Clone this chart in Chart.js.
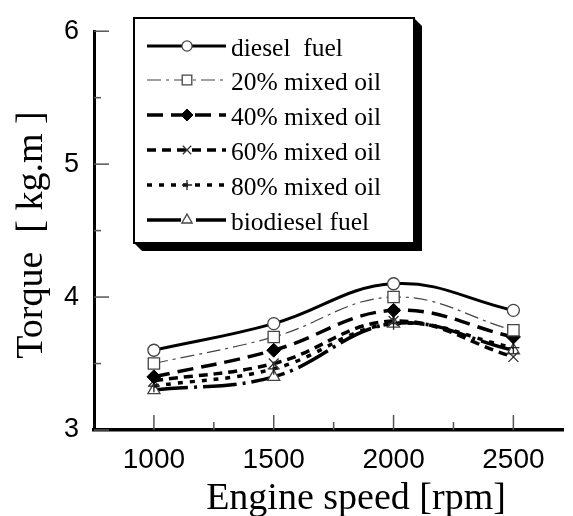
<!DOCTYPE html>
<html><head><meta charset="utf-8">
<script src="https://cdn.jsdelivr.net/npm/chart.js@4/dist/chart.umd.min.js"></script>
<style>html,body{margin:0;padding:0;background:#fff;overflow:hidden}canvas{display:block}</style>
</head><body>
<canvas id="c" width="573" height="516"></canvas>
<script>
// ---- data ----
const speeds = [1000, 1500, 2000, 2500];
const seriesLabels = ['diesel  fuel', '20% mixed oil', '40% mixed oil', '60% mixed oil', '80% mixed oil', 'biodiesel fuel'];
const dieselFuel = [3.6, 3.8, 4.1, 3.9];
const mixed20 = [3.5, 3.7, 4.0, 3.75];
const mixed40 = [3.4, 3.6, 3.9, 3.7];
const mixed60 = [3.37, 3.5, 3.82, 3.55];
const mixed80 = [3.33, 3.46, 3.8, 3.62];
const biodieselFuel = [3.3, 3.4, 3.8, 3.6];
const xTickLabels = [1000, 1500, 2000, 2500];
const xMinorTicks = [1250, 1750, 2250];
const yTickLabels = [3, 4, 5, 6];
const yMinorTicks = [3.5, 4.5, 5.5];
const xTitle = 'Engine speed [rpm]';
const yTitle = 'Torque  [ kg.m ]';

// ---- styles ----
const styles = [
  {borderColor:'#000', borderWidth:3, borderDash:[], pointStyle:'circle', pointRadius:6, pointBorderColor:'#444', pointBackgroundColor:'#fff', pointBorderWidth:1.3},
  {borderColor:'#444', borderWidth:1.2, borderDash:[14,5,3,5], pointStyle:'rect', pointRadius:8, pointBorderColor:'#444', pointBackgroundColor:'#fff', pointBorderWidth:1.3},
  {borderColor:'#000', borderWidth:3.5, borderDash:[16,8], pointStyle:'rectRot', pointRadius:7, pointBorderColor:'#000', pointBackgroundColor:'#000', pointBorderWidth:1},
  {borderColor:'#000', borderWidth:3.5, borderDash:[9,6], pointStyle:'crossRot', pointRadius:7, pointBorderColor:'#333', pointBackgroundColor:'#333', pointBorderWidth:1.3},
  {borderColor:'#000', borderWidth:3.5, borderDash:[5,7], pointStyle:'cross', pointRadius:6, pointBorderColor:'#222', pointBackgroundColor:'#222', pointBorderWidth:1.3},
  {borderColor:'#000', borderWidth:3.5, borderDash:[34,6,3,6], pointStyle:'triangle', pointRadius:7, pointBorderColor:'#444', pointBackgroundColor:'#fff', pointBorderWidth:1.3}
];
const seriesValues = [dieselFuel, mixed20, mixed40, mixed60, mixed80, biodieselFuel];

const datasets = seriesValues.map((vals, i) => Object.assign({
  label: seriesLabels[i],
  data: speeds.map((s, j) => ({x: s, y: vals[j]})),
  tension: 0.4,
  fill: false,
  clip: false
}, styles[i]));

const overlay = {
  id: 'overlay',
  beforeDatasetsDraw(chart) {
    const ctx = chart.ctx, xs = chart.scales.x, ys = chart.scales.y, ca = chart.chartArea;
    ctx.save();
    ctx.strokeStyle = '#555';
    ctx.lineWidth = 1.5;
    const line = (x1, y1, x2, y2) => { ctx.beginPath(); ctx.moveTo(x1, y1); ctx.lineTo(x2, y2); ctx.stroke(); };
    xTickLabels.forEach(v => { const p = xs.getPixelForValue(v); line(p, ca.bottom, p, ca.bottom - 15); });
    xMinorTicks.forEach(v => { const p = xs.getPixelForValue(v); line(p, ca.bottom, p, ca.bottom - 8); });
    yTickLabels.forEach(v => { const p = ys.getPixelForValue(v); line(ca.left, p, ca.left + 15, p); });
    yMinorTicks.forEach(v => { const p = ys.getPixelForValue(v); line(ca.left, p, ca.left + 7, p); });
    ctx.restore();
  },
  afterDraw(chart) {
    const ctx = chart.ctx;
    ctx.save();
    // axis titles
    ctx.fillStyle = '#000';
    ctx.font = '38px "Liberation Serif"';
    ctx.textAlign = 'center';
    ctx.textBaseline = 'alphabetic';
    ctx.fillText(xTitle, 356, 509);
    ctx.save();
    ctx.translate(42, 235);
    ctx.rotate(-Math.PI / 2);
    ctx.fillText(yTitle, 0, 0);
    ctx.restore();

    // legend box with shadow
    const L = 134, T = 18, R = 414, B = 243, S = 8;
    ctx.fillStyle = '#000';
    ctx.beginPath();
    ctx.moveTo(R, T); ctx.lineTo(R + S, T + S); ctx.lineTo(R + S, B + S);
    ctx.lineTo(L + S, B + S); ctx.lineTo(L, B); ctx.lineTo(R, B); ctx.closePath();
    ctx.fill();
    ctx.fillStyle = '#fff';
    ctx.fillRect(L, T, R - L, B - T);
    ctx.strokeStyle = '#000';
    ctx.lineWidth = 2;
    ctx.strokeRect(L, T, R - L, B - T);

    const baselines = [56, 90, 125, 160, 195, 230];
    chart.data.datasets.forEach((ds, i) => {
      const by = baselines[i];
      const ly = by - 10;
      ctx.save();
      ctx.strokeStyle = ds.borderColor;
      ctx.lineWidth = ds.borderWidth;
      ctx.setLineDash(ds.borderDash);
      ctx.beginPath(); ctx.moveTo(147, ly); ctx.lineTo(226, ly); ctx.stroke();
      ctx.setLineDash([]);
      ctx.strokeStyle = ds.pointBorderColor;
      ctx.fillStyle = ds.pointBackgroundColor;
      ctx.lineWidth = ds.pointBorderWidth;
      Chart.helpers.drawPoint(ctx, {pointStyle: ds.pointStyle, radius: ds.pointRadius * 0.85, borderWidth: ds.pointBorderWidth, rotation: 0}, 187, ly);
      ctx.restore();
      ctx.fillStyle = '#000';
      ctx.font = '25.5px "Liberation Serif"';
      ctx.textAlign = 'left';
      ctx.textBaseline = 'alphabetic';
      ctx.fillText(ds.label, 231, by);
    });
    ctx.restore();
  }
};

new Chart(document.getElementById('c'), {
  type: 'line',
  data: {datasets},
  options: {
    responsive: false,
    animation: false,
    devicePixelRatio: 1,
    layout: {padding: {top: 25, right: 0, left: 0, bottom: 0}},
    plugins: {legend: {display: false}, tooltip: {enabled: false}},
    scales: {
      x: {
        type: 'linear', min: 750, max: 2710,
        afterBuildTicks: s => { s.ticks = xTickLabels.map(v => ({value: v})); },
        afterFit: s => { s.height = 86; },
        grid: {display: false, drawTicks: false},
        border: {display: true, color: '#000', width: 3.5},
        ticks: {color: '#000', font: {family: '"Liberation Sans"', size: 28}, padding: 13, maxRotation: 0, autoSkip: false, callback: v => String(v)}
      },
      y: {
        type: 'linear', min: 3, max: 6,
        afterBuildTicks: s => { s.ticks = yTickLabels.map(v => ({value: v})); },
        afterFit: s => { s.width = 94; },
        grid: {display: false, drawTicks: false},
        border: {display: true, color: '#000', width: 3},
        ticks: {color: '#000', font: {family: '"Liberation Sans"', size: 27}, padding: 15, callback: v => String(v)}
      }
    }
  },
  plugins: [overlay]
});
</script>
</body></html>
